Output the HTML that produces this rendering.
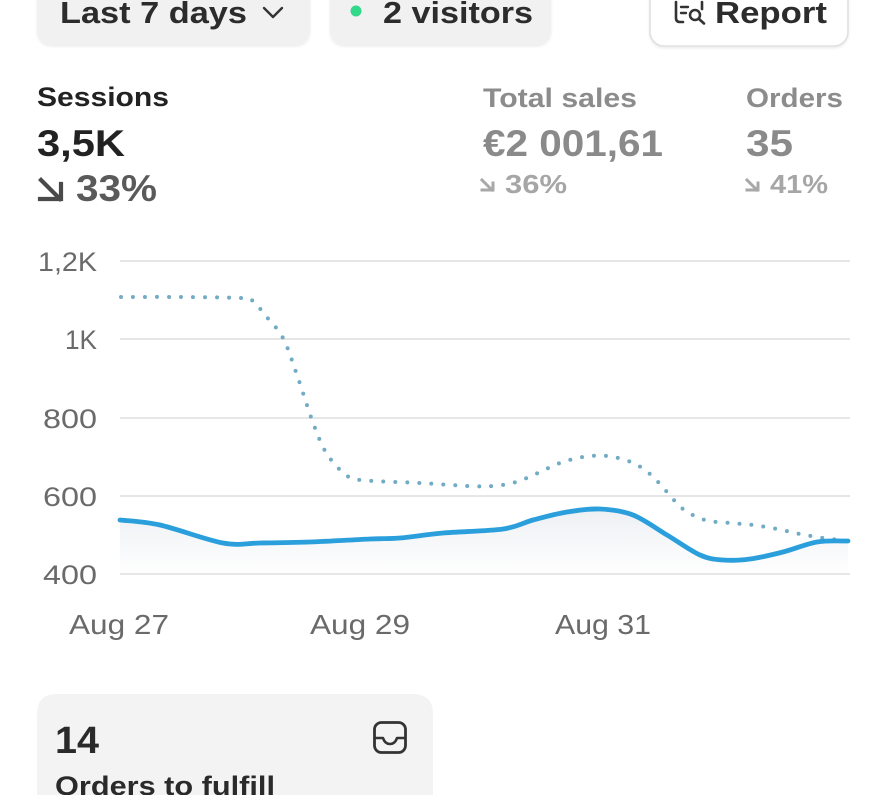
<!DOCTYPE html>
<html>
<head>
<meta charset="utf-8">
<style>
  html,body{margin:0;padding:0;background:#fff;}
  body{width:885px;height:795px;overflow:hidden;}
  svg{display:block;}
  text{font-family:"Liberation Sans", Arial, sans-serif;}
</style>
</head>
<body>
<svg width="885" height="795" viewBox="0 0 885 795" xmlns="http://www.w3.org/2000/svg">
  <defs>
    <linearGradient id="ag" x1="0" y1="505" x2="0" y2="575" gradientUnits="userSpaceOnUse">
      <stop offset="0" stop-color="#eceff3"/>
      <stop offset="1" stop-color="#ffffff"/>
    </linearGradient>
    <filter id="sh" x="-10%" y="-20%" width="120%" height="160%">
      <feDropShadow dx="0" dy="1.5" stdDeviation="1.2" flood-color="#000" flood-opacity="0.08"/>
    </filter>
  </defs>

  <!-- Top buttons -->
  <rect x="37" y="-20" width="273" height="65" rx="14" fill="#f1f1f2" filter="url(#sh)"/>
  <text x="60" y="23" font-size="31" font-weight="bold" fill="#2c2c2c" textLength="187" lengthAdjust="spacingAndGlyphs">Last 7 days</text>
  <polyline points="264,8 273,17 282,8" fill="none" stroke="#333" stroke-width="2.4" stroke-linecap="round" stroke-linejoin="round"/>

  <rect x="330" y="-20" width="221" height="65" rx="14" fill="#f1f1f2" filter="url(#sh)"/>
  <circle cx="356" cy="11" r="5.5" fill="#33d98a"/>
  <text x="383" y="23" font-size="31" font-weight="bold" fill="#2c2c2c" textLength="150" lengthAdjust="spacingAndGlyphs">2 visitors</text>

  <rect x="650" y="-20" width="198" height="66" rx="14" fill="#ffffff" stroke="#e0e0e0" stroke-width="1.6" filter="url(#sh)"/>
  <!-- report icon -->
  <path d="M683 22 H680 Q676 22 676 18 V2" fill="none" stroke="#333" stroke-width="2.6" stroke-linecap="round"/>
  <path d="M681 7 H688 M681 13 H686" fill="none" stroke="#333" stroke-width="2.4" stroke-linecap="round"/>
  <circle cx="695" cy="15" r="5" fill="none" stroke="#333" stroke-width="2.5"/>
  <path d="M699 19 L704 23.5" stroke="#333" stroke-width="2.6" stroke-linecap="round"/>
  <path d="M702 2 V9" stroke="#333" stroke-width="2.6" stroke-linecap="round"/>
  <text x="715" y="23" font-size="31" font-weight="bold" fill="#2c2c2c" textLength="112" lengthAdjust="spacingAndGlyphs">Report</text>

  <!-- Metrics -->
  <text x="37" y="106" font-size="27" font-weight="bold" fill="#222" textLength="132" lengthAdjust="spacingAndGlyphs">Sessions</text>
  <text x="37" y="156" font-size="37" font-weight="bold" fill="#222" textLength="88" lengthAdjust="spacingAndGlyphs">3,5K</text>
  <path d="M41 180 L60 199 M61 184 V199 H40" fill="none" stroke="#4a4a4a" stroke-width="4.2" stroke-linecap="square" stroke-linejoin="miter"/>
  <text x="76" y="201" font-size="37" font-weight="bold" fill="#5a5a5a" textLength="81" lengthAdjust="spacingAndGlyphs">33%</text>

  <text x="483" y="107" font-size="27" font-weight="bold" fill="#8c8c8c" textLength="154" lengthAdjust="spacingAndGlyphs">Total sales</text>
  <text x="483" y="156" font-size="37" font-weight="bold" fill="#8a8a8a" textLength="180" lengthAdjust="spacingAndGlyphs">€2 001,61</text>
  <path d="M482 180 L492 190 M493 183 V190 H482" fill="none" stroke="#a8a8a8" stroke-width="3" stroke-linecap="square"/>
  <text x="505" y="193" font-size="26" font-weight="bold" fill="#a6a6a6" textLength="62" lengthAdjust="spacingAndGlyphs">36%</text>

  <text x="746" y="107" font-size="27" font-weight="bold" fill="#8c8c8c" textLength="97" lengthAdjust="spacingAndGlyphs">Orders</text>
  <text x="746" y="156" font-size="37" font-weight="bold" fill="#8a8a8a" textLength="47" lengthAdjust="spacingAndGlyphs">35</text>
  <path d="M747 180 L757 190 M758 183 V190 H747" fill="none" stroke="#a8a8a8" stroke-width="3" stroke-linecap="square"/>
  <text x="770" y="193" font-size="26" font-weight="bold" fill="#a6a6a6" textLength="58" lengthAdjust="spacingAndGlyphs">41%</text>

  <!-- Grid -->
  <g stroke="#e6e6e6" stroke-width="2">
    <line x1="120" y1="261" x2="850" y2="261"/>
    <line x1="120" y1="339" x2="850" y2="339"/>
    <line x1="120" y1="418" x2="850" y2="418"/>
    <line x1="120" y1="496" x2="850" y2="496"/>
    <line x1="120" y1="574" x2="850" y2="574"/>
  </g>

  <!-- Y labels -->
  <g font-size="27" fill="#6a6a6a" text-anchor="end">
    <text x="97" y="271" textLength="59" lengthAdjust="spacingAndGlyphs">1,2K</text>
    <text x="97" y="349" textLength="32" lengthAdjust="spacingAndGlyphs">1K</text>
    <text x="97" y="428" textLength="54" lengthAdjust="spacingAndGlyphs">800</text>
    <text x="97" y="506" textLength="54" lengthAdjust="spacingAndGlyphs">600</text>
    <text x="97" y="584" textLength="54" lengthAdjust="spacingAndGlyphs">400</text>
  </g>

  <!-- X labels -->
  <g font-size="28" fill="#6a6a6a">
    <text x="69" y="634" textLength="100" lengthAdjust="spacingAndGlyphs">Aug 27</text>
    <text x="310" y="634" textLength="100" lengthAdjust="spacingAndGlyphs">Aug 29</text>
    <text x="555" y="634" textLength="96" lengthAdjust="spacingAndGlyphs">Aug 31</text>
  </g>

  <!-- Series -->
  <path id="area" fill="url(#ag)" stroke="none" d=""/>
  <path id="dotted" fill="none" stroke="#72acc4" stroke-width="4" stroke-linecap="round" stroke-dasharray="0 12" d=""/>
  <path id="solid" fill="none" stroke="#2a9fdc" stroke-width="4.8" stroke-linecap="round" stroke-linejoin="round" d=""/>

  <!-- Bottom card (top corners rounded, clipped at frame bottom) -->
  <path d="M37 795 V714 Q37 694 57 694 H413 Q433 694 433 714 V795 Z" fill="#f3f3f3"/>
  <text x="55" y="753" font-size="38" font-weight="bold" fill="#2a2a2a" textLength="44" lengthAdjust="spacingAndGlyphs">14</text>
  <rect x="374.5" y="722.5" width="31" height="30" rx="7" fill="none" stroke="#333" stroke-width="2.8"/>
  <path d="M375 738 H383 Q385 744 390 744 Q395 744 397 738 H405" fill="none" stroke="#333" stroke-width="2.6" stroke-linejoin="round"/>
  <text x="55" y="795" font-size="27" font-weight="bold" fill="#2a2a2a" textLength="220" lengthAdjust="spacingAndGlyphs">Orders to fulfill</text>
</svg>

<script>
function cr(pts){
  let d='M'+pts[0][0]+' '+pts[0][1];
  for(let i=0;i<pts.length-1;i++){
    const p0=pts[i-1]||pts[i],p1=pts[i],p2=pts[i+1],p3=pts[i+2]||p2;
    const c1=[(p1[0]+(p2[0]-p0[0])/6).toFixed(2),(p1[1]+(p2[1]-p0[1])/6).toFixed(2)];
    const c2=[(p2[0]-(p3[0]-p1[0])/6).toFixed(2),(p2[1]-(p3[1]-p1[1])/6).toFixed(2)];
    d+=' C'+c1[0]+' '+c1[1]+' '+c2[0]+' '+c2[1]+' '+p2[0]+' '+p2[1];
  }
  return d;
}
const solid=[[120,520],[160,525],[223,543],[260,543],[310,542],[370,539],[400,538],[443,533],[503,529],[533,520],[567,512],[600,509],[633,515],[667,535],[700,555],[723,560],[750,559],[783,552],[817,542],[848,541]];
const dotted=[[121,297],[180,297],[242,298],[253,301],[265,315],[283,338],[297,375],[311,417],[322,445],[332,461],[345,474],[360,480],[420,483],[468,486],[493,486],[516,482],[538,473],[560,463],[583,457],[607,456],[631,462],[650,474],[667,492],[683,509],[705,520],[730,523],[753,525],[777,529],[800,534],[823,538],[840,540]];
const sd=cr(solid);
document.getElementById('solid').setAttribute('d',sd);
document.getElementById('area').setAttribute('d',sd+' L848 573 L120 573 Z');
document.getElementById('dotted').setAttribute('d',cr(dotted));
</script>
</body>
</html>
